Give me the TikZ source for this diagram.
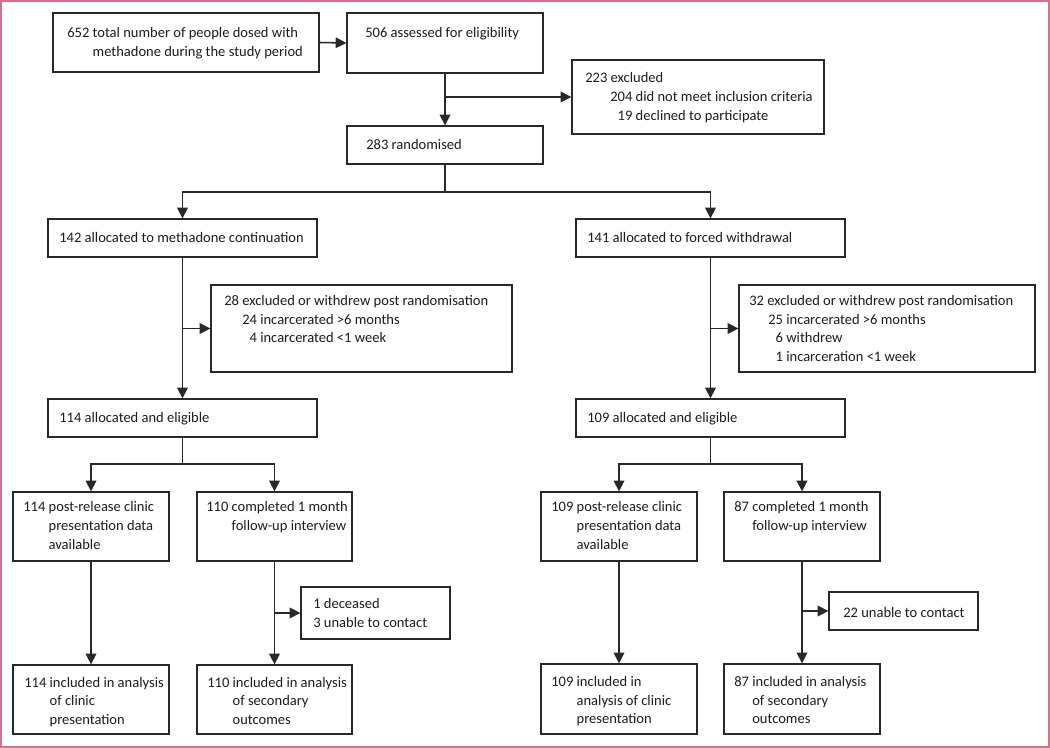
\documentclass[tikz,border=0pt]{standalone}
\usepackage{fontspec}
\setmainfont{Carlito}
\usetikzlibrary{arrows.meta,fit}
\definecolor{pinkb}{RGB}{214,110,140}
\definecolor{ink}{RGB}{30,28,28}
\definecolor{lin}{RGB}{40,40,40}
\begin{document}
\begin{tikzpicture}[x=0.75pt,y=-0.75pt,
 box/.style={draw=lin, line width=1pt, inner sep=0pt},
 conn/.style={draw=lin, line width=1.15pt},
 arr/.style={conn, -{Triangle[length=8pt,width=8pt]}},
 txt/.style={anchor=base west, inner sep=0pt, text=ink, font=\fontsize{10.9}{13}\selectfont}]
\useasboundingbox (0,0) rectangle (1050,748);
\fill[white] (0,0) rectangle (1050,748);
\draw[pinkb, line width=1.5pt] (1,1) rectangle (1049,747);
% boxes
\node[box, fit={(53,13) (319,72)}] (A) {};
\node[box, fit={(347,13) (543,73)}] (B) {};
\node[box, fit={(572,60) (824,134)}] (Excl) {};
\node[box, fit={(347,126) (543,164)}] (C) {};
\node[box, fit={(48,219) (317,257)}] (D) {};
\node[box, fit={(576,219) (845,257)}] (E) {};
\node[box, fit={(211,285) (512,372)}] (G) {};
\node[box, fit={(739,285) (1035,372)}] (H) {};
\node[box, fit={(48,399) (317,437)}] (F) {};
\node[box, fit={(576,399) (845,437)}] (I) {};
\node[box, fit={(13,492) (169,561)}] (J) {};
\node[box, fit={(197,492) (352,561)}] (K) {};
\node[box, fit={(301,587) (450,639)}] (L) {};
\node[box, fit={(13,665) (169,734)}] (M) {};
\node[box, fit={(197,665) (352,734)}] (N) {};
\node[box, fit={(541,492) (697,561)}] (O) {};
\node[box, fit={(724,492) (880,561)}] (P) {};
\node[box, fit={(829,592) (978,630)}] (Q) {};
\node[box, fit={(541,664) (697,734)}] (R) {};
\node[box, fit={(724,664) (880,734)}] (S) {};
% texts
\node[txt] (a1) at (67,38) {652 total number of people dosed with};
\node[txt] (a2) at (67,57) {\phantom{652 }methadone during the study period};
\node[txt] (b1) at (365,38) {506 assessed for eligibility};
\node[txt] (x1) at (585,83) {223 excluded};
\node[txt] (x2) at (610,102) {204 did not meet inclusion criteria};
\node[txt] (x3) at (610,121) {\phantom{2}19 declined to participate};
\node[txt] (c1) at (366,150) {283 randomised};
\node[txt] (d1) at (59,243) {142 allocated to methadone continuation};
\node[txt] (e1) at (587,243) {141 allocated to forced withdrawal};
\node[txt] (g1) at (224,306) {28 excluded or withdrew post randomisation};
\node[txt] (g2) at (242,325) {24 incarcerated >6 months};
\node[txt] (g3) at (242,343) {\phantom{2}4 incarcerated <1 week};
\node[txt] (h1) at (749,306) {32 excluded or withdrew post randomisation};
\node[txt] (h2) at (768,325) {25 incarcerated >6 months};
\node[txt] (h3) at (768,343) {\phantom{2}6 withdrew};
\node[txt] (h4) at (768,362) {\phantom{2}1 incarceration <1 week};
\node[txt] (f1) at (59,423) {114 allocated and eligible};
\node[txt] (i1) at (587,423) {109 allocated and eligible};
\node[txt] (j1) at (23,512) {114 post-release clinic};
\node[txt] (j2) at (23,531) {\phantom{114 }presentation data};
\node[txt] (j3) at (23,549) {\phantom{114 }available};
\node[txt] (k1) at (206,512) {110 completed 1 month};
\node[txt] (k2) at (206,531) {\phantom{110 }follow-up interview};
\node[txt] (l1) at (313,608) {1 deceased};
\node[txt] (l2) at (313,627) {3 unable to contact};
\node[txt] (m1) at (24,687) {114 included in analysis};
\node[txt] (m2) at (24,705) {\phantom{114 }of clinic};
\node[txt] (m3) at (24,724) {\phantom{114 }presentation};
\node[txt] (n1) at (207,687) {110 included in analysis};
\node[txt] (n2) at (207,705) {\phantom{110 }of secondary};
\node[txt] (n3) at (207,724) {\phantom{110 }outcomes};
\node[txt] (o1) at (551,512) {109 post-release clinic};
\node[txt] (o2) at (551,531) {\phantom{109 }presentation data};
\node[txt] (o3) at (551,549) {\phantom{109 }available};
\node[txt] (p1) at (734,512) {87 completed 1 month};
\node[txt] (p2) at (734,531) {\phantom{87 }follow-up interview};
\node[txt] (q1) at (843,617) {22 unable to contact};
\node[txt] (r1) at (551,686) {109 included in};
\node[txt] (r2) at (551,705) {\phantom{109 }analysis of clinic};
\node[txt] (r3) at (551,723) {\phantom{109 }presentation};
\node[txt] (s1t) at (734,686) {87 included in analysis};
\node[txt] (s2t) at (734,705) {\phantom{87 }of secondary};
\node[txt] (s3t) at (734,723) {\phantom{87 }outcomes};
% connectors
\coordinate (s1) at (446,192);
\coordinate (s2) at (183,464);
\coordinate (s3) at (711,464);
\draw[arr] (A.east) -- (B.west);
\draw[arr] (B.south) -- (C.north);
\draw[arr] (B.south |- Excl.west) -- (Excl.west);
\draw[conn] (C.south) -- (C.south |- s1);
\draw[arr] (C.south |- s1) -| (D.north);
\draw[arr] (C.south |- s1) -| (E.north);
\draw[arr] (D.south) -- (F.north);
\draw[arr] (D.south |- G.west) -- (G.west);
\draw[arr] (E.south) -- (I.north);
\draw[arr] (E.south |- H.west) -- (H.west);
\draw[conn] (F.south) -- (F.south |- s2);
\draw[arr] (F.south |- s2) -| (J.north);
\draw[arr] (F.south |- s2) -| (K.north);
\draw[conn] (I.south) -- (I.south |- s3);
\draw[arr] (I.south |- s3) -| (O.north);
\draw[arr] (I.south |- s3) -| (P.north);
\draw[arr] (J.south) -- (M.north);
\draw[arr] (K.south) -- (N.north);
\draw[arr] (K.south |- L.west) -- (L.west);
\draw[arr] (O.south) -- (R.north);
\draw[arr] (P.south) -- (S.north);
\draw[arr] (P.south |- Q.west) -- (Q.west);
\end{tikzpicture}
\end{document}
